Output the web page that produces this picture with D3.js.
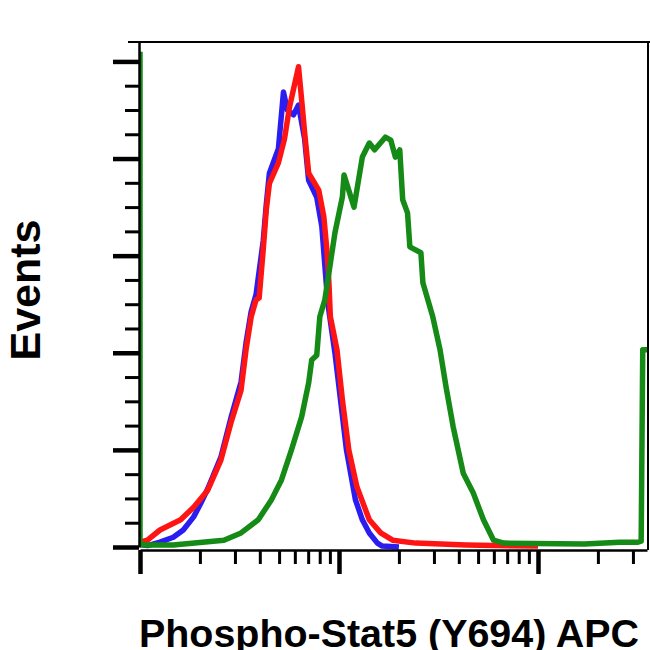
<!DOCTYPE html>
<html>
<head>
<meta charset="utf-8">
<script src="https://cdn.jsdelivr.net/npm/d3@7"></script>
<style>
  html, body { margin: 0; padding: 0; background: #fff; }
  svg { display: block; }
  .label { font-family: "Liberation Sans", Arial, sans-serif; font-weight: bold; fill: #000; }
</style>
</head>
<body>
<div id="container"></div>
<script>
const WIDTH = 650;
const HEIGHT = 650;

// axis ticks (no labels are printed on the original)
var X_TICKS_MAJOR = [1, 10, 100];
var X_TICKS_MINOR = [2, 3, 4, 5, 6, 7, 8, 9, 20, 30, 40, 50, 60, 70, 80, 90, 200, 300];
var Y_TICKS_MAJOR = [0, 20, 40, 60, 80, 100];
var Y_TICKS_MINOR = [5, 10, 15, 25, 30, 35, 45, 50, 55, 65, 70, 75, 85, 90, 95];

// blue histogram
var blueX = [1.0, 1.09, 1.26, 1.47, 1.65, 1.86, 2.02, 2.19, 2.55, 2.86, 3.22, 3.41, 3.62, 3.83, 4.16, 4.31,
    4.47, 4.96, 5.26, 5.5, 5.91, 6.26, 6.72, 7.04, 7.73, 8.2, 8.49, 8.8, 9.54, 10.2, 10.9, 12.1, 13.1,
    14.2, 15.6, 16.5, 20];
var blueY = [0.5, 0.3, 1.0, 2.0, 3.5, 6.2, 9.0, 12.0, 18.5, 26.5, 34.0, 42.0, 48.5, 52.0, 63.0, 70.5,
    77.0, 82.0, 93.7, 90.0, 89.0, 91.0, 84.0, 75.5, 72.0, 66.0, 58.0, 50.0, 40.0, 30.0, 20.0, 9.7, 5.6,
    2.9, 0.8, 0.2, 0];

// red histogram
var redX = [1.0, 1.09, 1.26, 1.6, 1.86, 2.19, 2.55, 2.86, 3.22, 3.41, 3.62, 3.83, 3.97, 4.16, 4.31, 4.47,
    4.96, 5.32, 5.64, 6.26, 6.49, 6.72, 7.04, 7.91, 8.39, 8.69, 8.9, 9.05, 9.77, 10.4, 11.2, 12.3, 14.2,
    16.2, 18.6, 24.3, 43.6, 60, 100];
var redY = [1.0, 1.4, 3.5, 5.6, 8.2, 11.7, 17.9, 25.5, 32.3, 40.6, 47.4, 50.9, 51.3, 61.2, 69.4, 74.9,
    79.1, 84.0, 90.6, 98.9, 92.1, 85.3, 77.0, 73.5, 68.0, 61.2, 54.4, 47.4, 40.6, 30.3, 20.0, 12.4, 5.6,
    2.9, 1.4, 0.8, 0.4, 0.3, 0.2];

// green histogram
var greenX = [1.0, 1.0, 1.06, 1.47, 2.64, 3.22, 3.93, 4.57, 5.14, 5.77, 6.49, 7.04, 7.29, 7.73, 8.01, 8.49,
    9.54, 10.4, 10.6, 11.9, 13.1, 14.2, 15.1, 17.1, 18.2, 19.2, 20.2, 20.9, 22.1, 22.7, 25.8, 26.4, 29.6,
    32.2, 34.5, 37.5, 42.1, 47.3, 53.2, 59.8, 67.2, 171, 258, 318, 330, 336, 353];
var greenY = [102, 0.5, 0.4, 0.4, 1.4, 2.9, 5.6, 9.7, 13.8, 20.0, 26.8, 33.8, 38.5, 39.5, 47.4, 50.9,
    64.7, 72.1, 76.6, 70.0, 80.3, 83.2, 81.8, 84.4, 83.8, 80.3, 81.8, 71.5, 68.8, 61.8, 60.6, 54.4, 47.4,
    40.6, 33.0, 24.7, 15.2, 11.1, 5.6, 1.4, 0.8, 0.6, 1.0, 1.0, 1.2, 40.6, 40.6];

var X_LABEL = "Phospho-Stat5 (Y694) APC";
var Y_LABEL = "Events";

var series = [
    {name: "blue", color: "#2b1cf0", xs: blueX, ys: blueY},
    {name: "red", color: "#ff1414", xs: redX, ys: redY},
    {name: "green", color: "#168a16", xs: greenX, ys: greenY}
];

var XScale = d3.scaleLog().domain([1, 353]).range([140, 647]);
var YScale = d3.scaleLinear().domain([0, 104]).range([547, 42]);

var LINE = d3.line()
    .x(function (d) { return XScale(d.x); })
    .y(function (d) { return YScale(d.y); });

var toPoints = function (xs, ys) {
    return xs.map(function (x, i) { return {x: x, y: ys[i]}; });
};

var translate = function (x, y) {
    return "translate(" + x + "," + y + ")";
};

var drawTicks = function (svg, axis, transform, width, keepDomain) {
    var g = svg.append("g").attr("transform", transform).call(axis);
    g.selectAll(".tick line").attr("stroke", "#000").attr("stroke-width", width);
    if (keepDomain) {
        g.select(".domain").attr("stroke", "#000").attr("stroke-width", 2.5);
    } else {
        g.select(".domain").remove();
    }
    return g;
};

var generateChart = function () {
    var svg = d3.select("#container").append("svg")
        .attr("width", WIDTH)
        .attr("height", HEIGHT);

    var x0 = XScale.range()[0], x1 = XScale.range()[1];
    var yTop = YScale.range()[1], yBase = YScale.range()[0];

    svg.append("clipPath").attr("id", "plot")
        .append("rect")
        .attr("x", x0).attr("y", yTop)
        .attr("width", x1 - x0).attr("height", yBase - yTop + 3);

    var curves = svg.append("g").attr("clip-path", "url(#plot)");
    series.forEach(function (s) {
        curves.append("path")
            .datum(toPoints(s.xs, s.ys))
            .attr("class", "line " + s.name)
            .attr("fill", "none")
            .attr("stroke", s.color)
            .attr("stroke-width", 5.5)
            .attr("stroke-linejoin", "round")
            .attr("d", LINE);
    });

    // frame: top and right
    svg.append("line")
        .attr("x1", x0 - 12).attr("x2", WIDTH).attr("y1", yTop).attr("y2", yTop)
        .attr("stroke", "#000").attr("stroke-width", 2);
    svg.append("line")
        .attr("x1", x1 + 1).attr("x2", x1 + 1).attr("y1", yTop).attr("y2", yBase + 3)
        .attr("stroke", "#000").attr("stroke-width", 2);

    // y axis
    drawTicks(svg, d3.axisLeft(YScale).tickValues(Y_TICKS_MINOR).tickSize(14).tickFormat(""),
        translate(x0 - 1, 0), 3, false);
    drawTicks(svg, d3.axisLeft(YScale).tickValues(Y_TICKS_MAJOR).tickSize(26).tickSizeOuter(0).tickFormat(""),
        translate(x0 - 1, 0), 4.5, true);

    // x axis
    drawTicks(svg, d3.axisBottom(XScale).tickValues(X_TICKS_MINOR).tickSize(14).tickFormat(""),
        translate(0, yBase + 3), 3, false);
    drawTicks(svg, d3.axisBottom(XScale).tickValues(X_TICKS_MAJOR).tickSize(24).tickSizeOuter(0).tickFormat(""),
        translate(0, yBase + 3), 4.5, true);

    svg.append("text")
        .attr("class", "label")
        .attr("transform", translate(40, 290) + " rotate(-90)")
        .attr("text-anchor", "middle")
        .attr("font-size", 43)
        .text(Y_LABEL);

    svg.append("text")
        .attr("class", "label")
        .attr("x", 139)
        .attr("y", 647)
        .attr("font-size", 38)
        .attr("textLength", 500)
        .attr("lengthAdjust", "spacingAndGlyphs")
        .text(X_LABEL);
};

window.onload = generateChart;
</script>
</body>
</html>
